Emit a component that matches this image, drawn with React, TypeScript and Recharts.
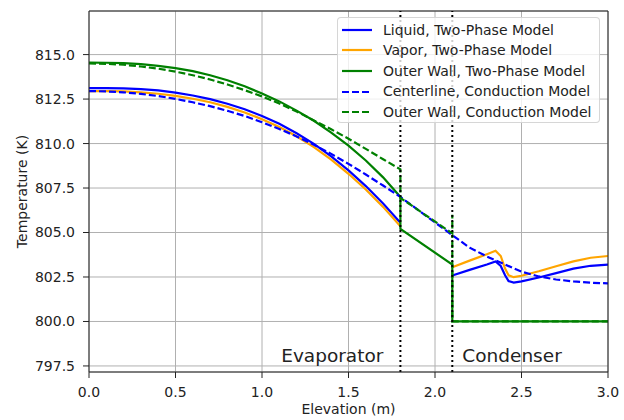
import React from 'react';
import { LineChart, Line, XAxis, YAxis, CartesianGrid, ReferenceLine } from 'recharts';

// Evaporator section (0 - 1.8 m)
const evapX = [0, 0.1, 0.2, 0.3, 0.4, 0.5, 0.6, 0.7, 0.8, 0.9, 1.0, 1.1, 1.2, 1.3, 1.4, 1.5, 1.6, 1.7, 1.8];
const liquidEvap = [813.12, 813.12, 813.1, 813.06, 812.99, 812.86, 812.7, 812.5, 812.24, 811.93, 811.55, 811.11, 810.58, 809.98, 809.28, 808.49, 807.61, 806.63, 805.55];
const vaporEvap = [812.95, 812.95, 812.93, 812.88, 812.8, 812.68, 812.52, 812.32, 812.06, 811.75, 811.37, 810.93, 810.41, 809.8, 809.1, 808.3, 807.42, 806.44, 805.35];
const wallTwoPhaseEvap = [814.55, 814.54, 814.52, 814.46, 814.37, 814.24, 814.07, 813.84, 813.56, 813.22, 812.81, 812.37, 811.85, 811.28, 810.62, 809.88, 809.05, 808.1, 807.0];
const centerlineEvap = [812.95, 812.93, 812.88, 812.79, 812.67, 812.51, 812.32, 812.1, 811.84, 811.55, 811.2, 810.82, 810.4, 809.93, 809.42, 808.86, 808.26, 807.64, 807.0];
const wallConductionEvap = [814.5, 814.48, 814.43, 814.33, 814.21, 814.04, 813.84, 813.6, 813.32, 813.0, 812.65, 812.25, 811.8, 811.3, 810.8, 810.27, 809.7, 809.12, 808.55];

// Condenser section (2.1 - 3.0 m)
const condX = [2.1, 2.2, 2.3, 2.35, 2.38, 2.405, 2.425, 2.455, 2.5, 2.6, 2.7, 2.8, 2.9, 3.0];
const liquidCond = [802.58, 802.9, 803.2, 803.37, 803.12, 802.6, 802.27, 802.19, 802.25, 802.47, 802.72, 802.97, 803.13, 803.2];
const vaporCond = [803.05, 803.42, 803.78, 803.97, 803.68, 802.97, 802.6, 802.49, 802.57, 802.82, 803.1, 803.38, 803.58, 803.68];
const centerlineCondX = [2.1, 2.2, 2.3, 2.4, 2.5, 2.6, 2.7, 2.8, 2.9, 3.0];
const centerlineCond = [804.85, 804.15, 803.65, 803.22, 802.8, 802.53, 802.36, 802.25, 802.18, 802.14];

// Adiabatic + condenser wall
const wallTwoPhaseTailX = [1.8, 2.1, 2.1, 3.0];
const wallTwoPhaseTail = [805.2, 803.2, 800.0, 800.0];
const wallConductionTailX = [1.8, 2.1, 2.1, 2.1, 3.0];
const wallConductionTail = [806.95, 804.95, 806.0, 800.0, 800.0];

const xTicks = [0, 0.5, 1.0, 1.5, 2.0, 2.5, 3.0];
const yTicks = [797.5, 800.0, 802.5, 805.0, 807.5, 810.0, 812.5, 815.0];
const sectionBounds = [1.8, 2.1];
const sectionLabels = ['Evaporator', 'Condenser'];
const seriesNames = [
  'Liquid, Two-Phase Model',
  'Vapor, Two-Phase Model',
  'Outer Wall, Two-Phase Model',
  'Centerline, Conduction Model',
  'Outer Wall, Conduction Model',
];

const pts = (xs: number[], ys: number[]) => xs.map((x, i) => ({ x, y: ys[i] }));
const gap = (x: number) => ({ x, y: null as any });

const liquidData = [...pts(evapX, liquidEvap), gap(1.95), ...pts(condX, liquidCond)];
const vaporData = [...pts(evapX, vaporEvap), gap(1.95), ...pts(condX, vaporCond)];
const wallTwoPhaseData = [...pts(evapX, wallTwoPhaseEvap), ...pts(wallTwoPhaseTailX, wallTwoPhaseTail)];
const centerlineData = [...pts(evapX, centerlineEvap), ...pts(centerlineCondX, centerlineCond)];
const wallConductionData = [...pts(evapX, wallConductionEvap), ...pts(wallConductionTailX, wallConductionTail)];

const BLUE = '#0000ff';
const ORANGE = '#ffa500';
const GREEN = '#008000';
const FONT = '"DejaVu Sans", sans-serif';
const DASH = '7 3';
const LW = 2.2;

const legendItems = [
  { name: seriesNames[0], color: BLUE, dash: undefined },
  { name: seriesNames[1], color: ORANGE, dash: undefined },
  { name: seriesNames[2], color: GREEN, dash: undefined },
  { name: seriesNames[3], color: BLUE, dash: DASH },
  { name: seriesNames[4], color: GREEN, dash: DASH },
];

const Y_DOMAIN: [number, number] = [797.16, 817.45];

export default function App() {
  return (
    <div style={{ position: 'absolute', left: 0, top: 0, width: 624, height: 420, fontFamily: FONT }}>
      <LineChart width={624} height={420} margin={{ top: 11, right: 16, bottom: 0, left: 0 }}>
        <CartesianGrid stroke="#b0b0b0" strokeWidth={1} />
        <XAxis
          dataKey="x"
          type="number"
          domain={[0, 3]}
          ticks={xTicks}
          allowDataOverflow
          tickFormatter={(v: number) => v.toFixed(1)}
          height={48}
          tickSize={6}
          tickMargin={9}
          stroke="#222"
          tick={{ fill: '#222', fontSize: 14, fontFamily: FONT }}
          label={(props: any) => {
            const vb = props.viewBox || { x: 89, y: 372, width: 519 };
            return (
              <text x={vb.x + vb.width / 2} y={413.5} textAnchor="middle" fill="#222" fontSize={14} fontFamily={FONT}>
                Elevation (m)
              </text>
            );
          }}
        />
        <YAxis
          type="number"
          domain={Y_DOMAIN}
          ticks={yTicks}
          allowDataOverflow
          tickFormatter={(v: number) => v.toFixed(1)}
          width={89}
          tickSize={6}
          tickMargin={8}
          stroke="#222"
          tick={{ fill: '#222', fontSize: 14, fontFamily: FONT }}
          label={() => (
            <text
              x={21.5}
              y={191.5}
              transform="rotate(-90 21.5 191.5)"
              textAnchor="middle"
              dominantBaseline="central"
              fill="#222"
              fontSize={14}
              fontFamily={FONT}
            >
              Temperature (K)
            </text>
          )}
        />
        <Line data={liquidData} dataKey="y" name={seriesNames[0]} type="linear" dot={false} activeDot={false} stroke={BLUE} strokeWidth={LW} isAnimationActive={false} connectNulls={false} />
        <Line data={vaporData} dataKey="y" name={seriesNames[1]} type="linear" dot={false} activeDot={false} stroke={ORANGE} strokeWidth={LW} isAnimationActive={false} connectNulls={false} />
        <Line data={wallTwoPhaseData} dataKey="y" name={seriesNames[2]} type="linear" dot={false} activeDot={false} stroke={GREEN} strokeWidth={LW} isAnimationActive={false} />
        <Line data={centerlineData} dataKey="y" name={seriesNames[3]} type="linear" dot={false} activeDot={false} stroke={BLUE} strokeWidth={LW} strokeDasharray={DASH} isAnimationActive={false} />
        <Line data={wallConductionData} dataKey="y" name={seriesNames[4]} type="linear" dot={false} activeDot={false} stroke={GREEN} strokeWidth={LW} strokeDasharray={DASH} isAnimationActive={false} />
        <ReferenceLine y={Y_DOMAIN[1]} stroke="#222" strokeWidth={1} />
        <ReferenceLine x={3.0} stroke="#222" strokeWidth={1} />
        <ReferenceLine
          x={sectionBounds[0]}
          stroke="#000"
          strokeWidth={2}
          strokeDasharray="2 3"
          label={(props: any) => (
            <text x={(props.viewBox?.x ?? 400) - 17} y={362} textAnchor="end" fill="#222" fontSize={18.5} fontFamily={FONT}>
              {sectionLabels[0]}
            </text>
          )}
        />
        <ReferenceLine
          x={sectionBounds[1]}
          stroke="#000"
          strokeWidth={2}
          strokeDasharray="2 3"
          label={(props: any) => (
            <text x={(props.viewBox?.x ?? 452) + 10} y={362} textAnchor="start" fill="#222" fontSize={18.5} fontFamily={FONT}>
              {sectionLabels[1]}
            </text>
          )}
        />
      </LineChart>
      <div
        style={{
          position: 'absolute',
          left: 337,
          top: 17,
          width: 263,
          height: 106,
          boxSizing: 'border-box',
          background: 'rgba(255,255,255,0.8)',
          border: '1px solid rgba(204,204,204,0.8)',
          borderRadius: 4,
          paddingTop: 1.5,
        }}
      >
        {legendItems.map((it) => (
          <div key={it.name} style={{ position: 'relative', height: 20.6, display: 'flex', alignItems: 'center' }}>
            <svg width={30} height={6} style={{ position: 'absolute', left: 4, top: 7.3 }}>
              <line x1={0} y1={3} x2={30} y2={3} stroke={it.color} strokeWidth={LW} strokeDasharray={it.dash} />
            </svg>
            <span
              style={{
                position: 'absolute',
                left: 45,
                top: 0,
                lineHeight: '20.6px',
                fontSize: 14,
                color: '#222',
                fontFamily: FONT,
                whiteSpace: 'nowrap',
              }}
            >
              {it.name}
            </span>
          </div>
        ))}
      </div>
    </div>
  );
}
